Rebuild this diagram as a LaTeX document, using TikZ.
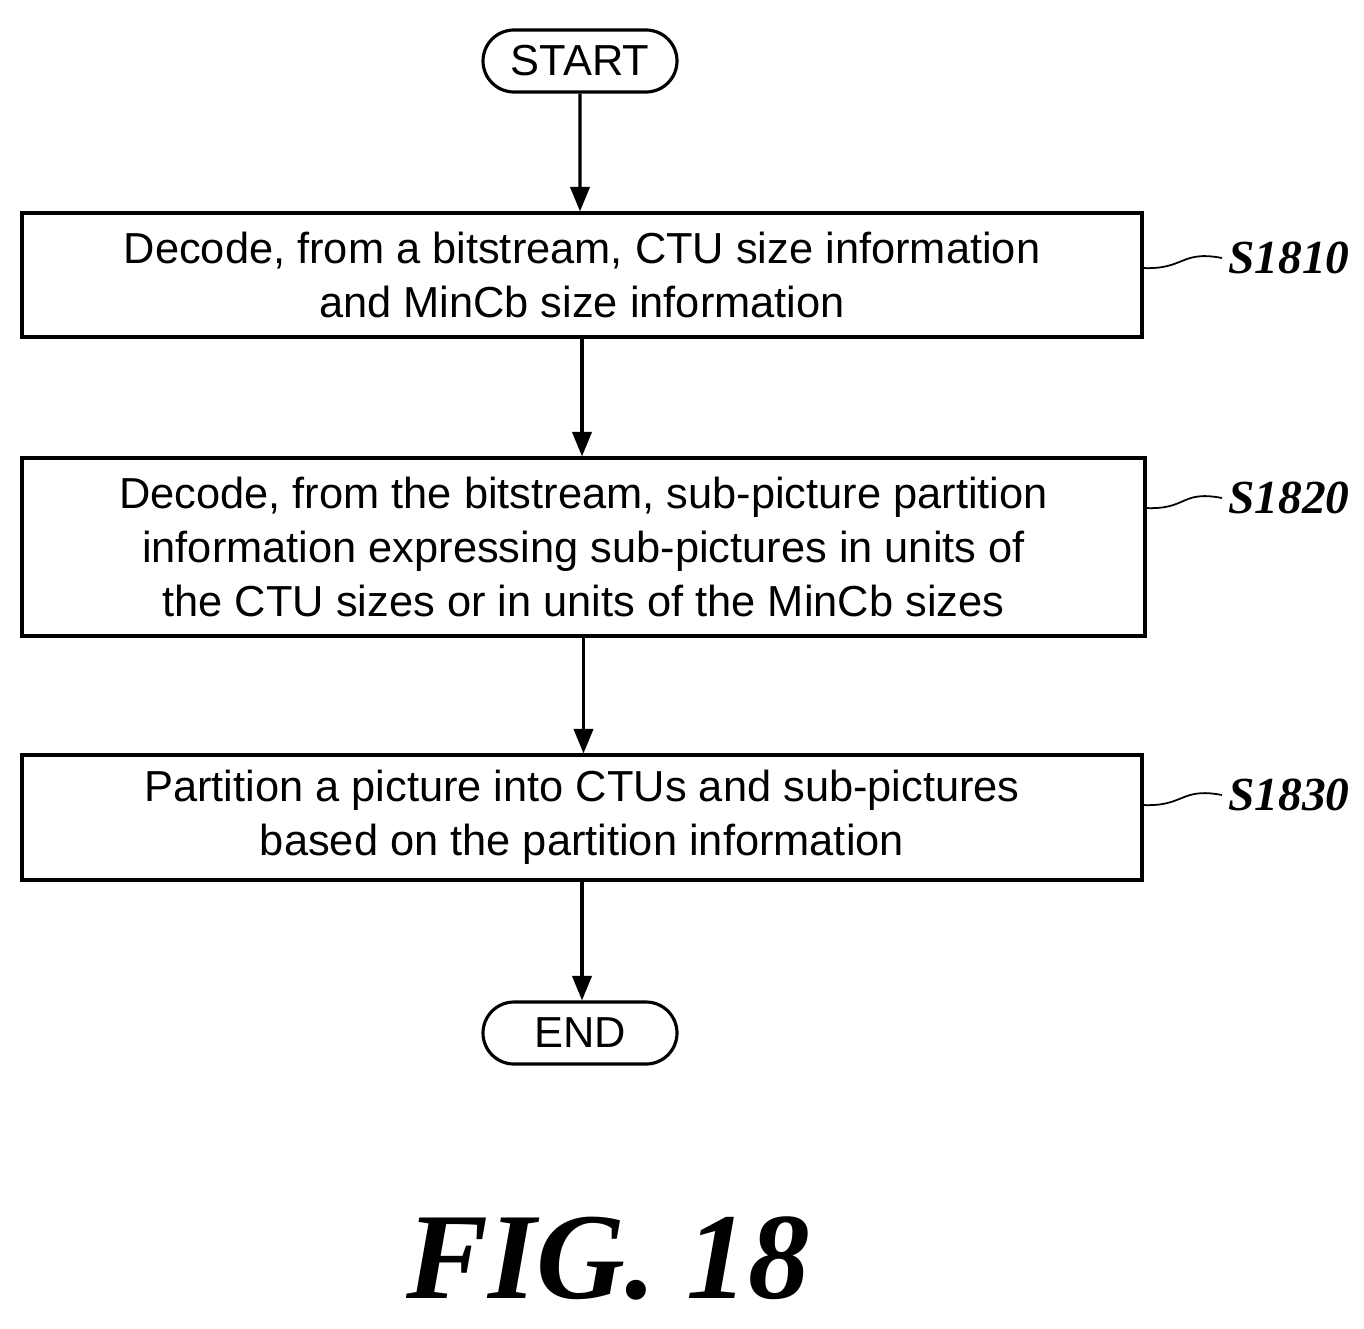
\documentclass[tikz,border=0pt]{standalone}
\usepackage{fontspec}
\setmainfont{Liberation Sans}
\newfontfamily\serf{Liberation Serif}
\usetikzlibrary{arrows.meta,shapes.misc}
\begin{document}
\begin{tikzpicture}[x=0.02cm,y=-0.02cm,
  box/.style={draw,line width=1.8pt,inner sep=0pt,align=center,font=\fontsize{24.7}{30.5}\selectfont},
  term/.style={draw,line width=1.8pt,rounded rectangle,minimum width=194*0.02cm,minimum height=62*0.02cm,font=\fontsize{24.7}{30}\selectfont,inner sep=0pt},
  arr/.style={line width=1.8pt,-{Triangle[length=14pt,width=11pt]}},
  lab/.style={font=\serf\bfseries\itshape\fontsize{27}{30}\selectfont,anchor=west},
  sq/.style={line width=1pt}]
\useasboundingbox (0,0) rectangle (1364,1328);
\node[term] (start) at (580,61) {START};
\node[box,minimum width=1120*0.02cm,minimum height=124*0.02cm] (b1) at (582,275) {Decode, from a bitstream, CTU size information\\and MinCb size information};
\node[box,minimum width=1123*0.02cm,minimum height=178*0.02cm] (b2) at (583.5,547) {Decode, from the bitstream, sub-picture partition\\information expressing sub-pictures in units of\\the CTU sizes or in units of the MinCb sizes};
\node[box,minimum width=1120*0.02cm,minimum height=125*0.02cm] (b3) at (582,817.5) {Partition a picture into CTUs and sub-pictures\\based on the partition information};
\node[term] (end) at (580,1033) {END};
\draw[arr] (start) -- (start|-b1.north);
\draw[arr] (b1) -- (b1|-b2.north);
\draw[arr] (b2) -- (b2|-b3.north);
\draw[arr] (b3) -- (b3|-end.north);
\node[lab] (l1) at (1222,258) {S1810};
\node[lab] (l2) at (1222,498) {S1820};
\node[lab] (l3) at (1222,795) {S1830};
\coordinate (e1) at (1142,268); \coordinate (e2) at (1145,508); \coordinate (e3) at (1142,805);
\draw[sq] (e1) .. controls (1185,270) and (1180,250) .. (l1.west);
\draw[sq] (e2) .. controls (1188,510) and (1180,490) .. (l2.west);
\draw[sq] (e3) .. controls (1185,807) and (1180,787) .. (l3.west);
\node[font=\serf\bfseries\itshape\fontsize{70}{72}\selectfont] (fig) at (608,1258) {FIG. 18};
\end{tikzpicture}
\end{document}
